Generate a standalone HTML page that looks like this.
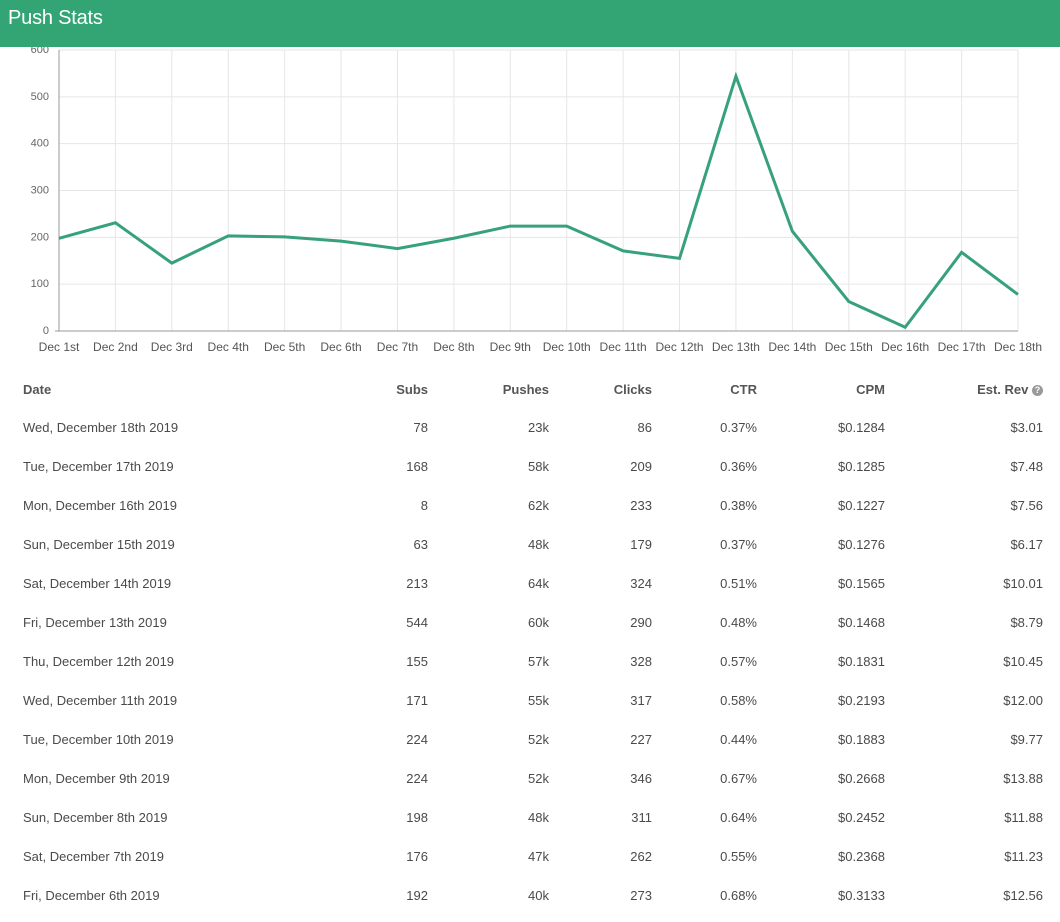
<!DOCTYPE html>
<html><head><meta charset="utf-8"><style>
body{margin:0;width:1060px;height:922px;overflow:hidden;background:#fff;font-family:"Liberation Sans",sans-serif;position:relative}
#hdr{position:absolute;left:0;top:0;width:1060px;height:47px;background:#33a474;color:#fff;font-size:20px;line-height:36px;padding-left:8px;box-sizing:border-box;z-index:2;letter-spacing:-0.2px}
svg{position:absolute;left:0;top:0}
table{position:absolute;left:13px;top:370px;width:1040px;border-collapse:collapse;font-size:13px;color:#4a4a4a;table-layout:fixed}
td,th{height:39px;padding:0 10px;text-align:right;font-weight:normal}
td:first-child,th:first-child{text-align:left}
th{font-weight:bold;color:#555;height:38px}
.q{display:inline-block;width:11px;height:11px;border-radius:50%;background:#999;color:#fff;font-size:9px;line-height:11px;text-align:center;vertical-align:middle}
</style></head><body>
<div id="hdr">Push Stats</div>
<svg id="chart" width="1060" height="360"></svg>
<table>
<colgroup><col style="width:325px"><col style="width:100px"><col style="width:121px"><col style="width:103px"><col style="width:105px"><col style="width:128px"><col style="width:158px"></colgroup>
<tr><th>Date</th><th>Subs</th><th>Pushes</th><th>Clicks</th><th>CTR</th><th>CPM</th><th>Est. Rev <span class="q">?</span></th></tr>
<tr><td>Wed, December 18th 2019</td><td>78</td><td>23k</td><td>86</td><td>0.37%</td><td>$0.1284</td><td>$3.01</td></tr>
<tr><td>Tue, December 17th 2019</td><td>168</td><td>58k</td><td>209</td><td>0.36%</td><td>$0.1285</td><td>$7.48</td></tr>
<tr><td>Mon, December 16th 2019</td><td>8</td><td>62k</td><td>233</td><td>0.38%</td><td>$0.1227</td><td>$7.56</td></tr>
<tr><td>Sun, December 15th 2019</td><td>63</td><td>48k</td><td>179</td><td>0.37%</td><td>$0.1276</td><td>$6.17</td></tr>
<tr><td>Sat, December 14th 2019</td><td>213</td><td>64k</td><td>324</td><td>0.51%</td><td>$0.1565</td><td>$10.01</td></tr>
<tr><td>Fri, December 13th 2019</td><td>544</td><td>60k</td><td>290</td><td>0.48%</td><td>$0.1468</td><td>$8.79</td></tr>
<tr><td>Thu, December 12th 2019</td><td>155</td><td>57k</td><td>328</td><td>0.57%</td><td>$0.1831</td><td>$10.45</td></tr>
<tr><td>Wed, December 11th 2019</td><td>171</td><td>55k</td><td>317</td><td>0.58%</td><td>$0.2193</td><td>$12.00</td></tr>
<tr><td>Tue, December 10th 2019</td><td>224</td><td>52k</td><td>227</td><td>0.44%</td><td>$0.1883</td><td>$9.77</td></tr>
<tr><td>Mon, December 9th 2019</td><td>224</td><td>52k</td><td>346</td><td>0.67%</td><td>$0.2668</td><td>$13.88</td></tr>
<tr><td>Sun, December 8th 2019</td><td>198</td><td>48k</td><td>311</td><td>0.64%</td><td>$0.2452</td><td>$11.88</td></tr>
<tr><td>Sat, December 7th 2019</td><td>176</td><td>47k</td><td>262</td><td>0.55%</td><td>$0.2368</td><td>$11.23</td></tr>
<tr><td>Fri, December 6th 2019</td><td>192</td><td>40k</td><td>273</td><td>0.68%</td><td>$0.3133</td><td>$12.56</td></tr>
</table>
<script>
const categories=["Dec 1st","Dec 2nd","Dec 3rd","Dec 4th","Dec 5th","Dec 6th","Dec 7th","Dec 8th","Dec 9th","Dec 10th","Dec 11th","Dec 12th","Dec 13th","Dec 14th","Dec 15th","Dec 16th","Dec 17th","Dec 18th"];
const subs=[198,231,145,203,201,192,176,198,224,224,171,155,544,213,63,8,168,78];
const yTicks=[0,100,200,300,400,500,600];
const svg=document.getElementById('chart');const NS='http://www.w3.org/2000/svg';
const x0=59,x1=1018,yb=331,yt=50,ymax=600;
const xs=i=>x0+(x1-x0)*i/(categories.length-1);
const ys=v=>yb-(yb-yt)*v/ymax;
function mk(t,a,p){const e=document.createElementNS(NS,t);for(const k in a)e.setAttribute(k,a[k]);(p||svg).appendChild(e);return e;}
yTicks.forEach(v=>{const g=mk('line',{x1:x0,x2:x1,y1:ys(v),y2:ys(v),stroke:'#e6e6e6'});

const t=mk('text',{x:x0-10,y:ys(v)+3,'text-anchor':'end','font-size':11,fill:'#666','font-family':'Liberation Sans'});t.textContent=v;
});
categories.forEach((c,i)=>{const g=mk('line',{x1:xs(i),x2:xs(i),y1:yt,y2:yb,stroke:'#e6e6e6'});

const t=mk('text',{x:xs(i),y:351,'text-anchor':'middle','font-size':12,fill:'#555','font-family':'Liberation Sans'});t.textContent=c;
});
const ax=mk('line',{x1:x0,x2:x0,y1:yt,y2:yb,stroke:'#999'});
const bx=mk('line',{x1:x0-4,x2:x1,y1:yb,y2:yb,stroke:'#999'});
const pl=mk('polyline',{points:subs.map((v,i)=>xs(i)+','+ys(v)).join(' '),fill:'none',stroke:'#36a17a','stroke-width':3,'stroke-linejoin':'miter'});

</script>
</body></html>
